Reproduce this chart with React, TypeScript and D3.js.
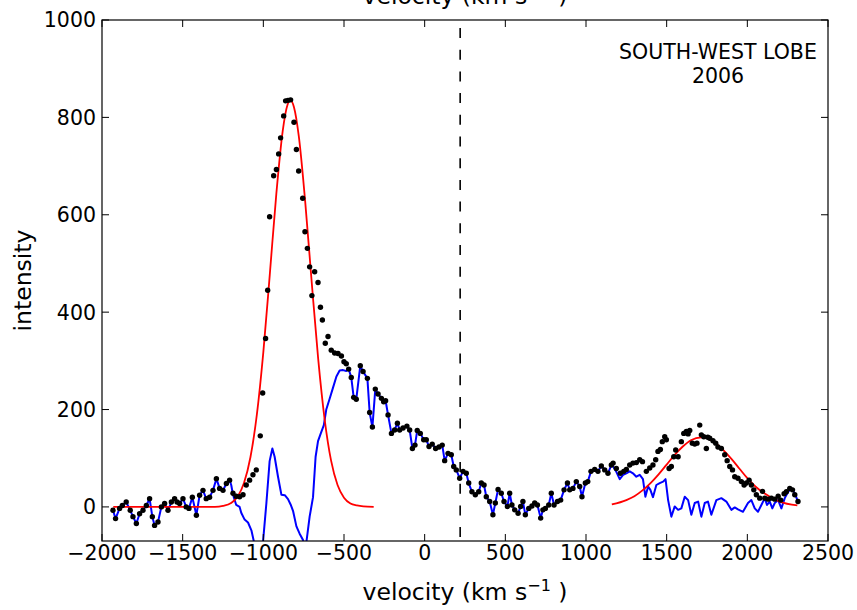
import React from 'react';
import * as d3 from 'd3';

// Observed spectrum (black dots): velocity (km/s) and intensity
const velocity = [
  -1932, -1916, -1891, -1874, -1850, -1825, -1808, -1787, -1767, -1746,
  -1725, -1705, -1688, -1674, -1653, -1632, -1612, -1591, -1570, -1550,
  -1535, -1519, -1498, -1478, -1461, -1440, -1415, -1395, -1374, -1354,
  -1333, -1312, -1291, -1271, -1250, -1229, -1209, -1188,
  -1168, -1147, -1126, -1106, -1085, -1064, -1044, -1019, -1004, -986,
  -973, -961, -936, -919, -905, -893, -874, -862, -847, -831,
  -810, -795, -781, -756, -742, -727, -713, -699, -682, -661,
  -646, -634, -616, -599, -579, -558, -537, -516, -500, -486, -471,
  -455, -440, -424, -399, -382, -355, -341, -324, -306, -289,
  -268, -254, -242, -227, -206, -186, -169, -155, -134, -110,
  -93, -76, -60, -46, -27, -6, 10, 27, 47, 68, 89, 109, 124, 145, 165, 180,
  196, 217, 238, 258, 273, 293, 314, 335, 351, 368,
  382, 403, 423, 438, 455, 475, 492, 513, 527, 541,
  558, 579, 595, 609, 624, 645, 665, 682, 699, 719,
  733, 748, 769, 785, 802, 823, 843, 864, 885, 899,
  919, 940, 961, 975, 996, 1011, 1031, 1054, 1074, 1095, 1116, 1136, 1157,
  1168, 1188, 1213, 1234, 1250, 1271, 1291, 1312, 1333, 1350,
  1374, 1395, 1415, 1432, 1446, 1461, 1473, 1488, 1498, 1515,
  1529, 1544, 1556, 1571, 1591, 1606, 1622, 1633, 1643, 1659,
  1674, 1688, 1705, 1715, 1730, 1746, 1755, 1767, 1787, 1804,
  1818, 1839, 1860, 1875, 1891, 1908, 1922, 1942, 1963, 1980,
  1994, 2011, 2025, 2040, 2056, 2077, 2094, 2108, 2129, 2149,
  2170, 2191, 2207, 2228, 2242, 2263, 2280, 2294, 2314,
];
const intensity = [
  -7, -24, -3, 3, 10, -7, -20, -34, -14, -7,
  3, 17, -20, -38, -31, 0, 7, -7, 10, 17,
  10, 7, 17, 0, -3, 20, -17, 24, 34, 17,
  20, 34, 58, 38, 34, 48, 55, 28,
  22, 21, 25, 45, 55, 66, 76, 146, 234, 346,
  445, 596, 680, 693, 725, 758, 803, 834, 835, 836,
  790, 734, 690, 634, 565, 531, 493, 434, 483, 461,
  410, 384, 336, 350, 322, 316, 315, 310, 298, 294, 283,
  266, 225, 221, 290, 278, 264, 194, 164, 242, 232,
  223, 216, 218, 189, 151, 158, 172, 158, 162, 166,
  158, 120, 127, 157, 151, 138, 138, 124, 129, 120, 123, 127, 95, 110, 107, 83,
  76, 59, 73, 69, 49, 31, 25, 31, 49, 45,
  21, 11, -16, 8, 36, 28, 11, 1, 28, 4,
  -6, -13, 1, 11, -16, -3, 2, 8, 4, -23,
  -6, -3, 4, 28, 4, 11, 14, 35, 49, 35,
  38, 52, 42, 21, 49, 52, 73, 77, 73, 84, 76, 69, 86,
  90, 79, 69, 73, 77, 86, 90, 91, 97, 93,
  73, 80, 86, 97, 114, 118, 134, 144, 138, 79,
  83, 103, 117, 103, 134, 151, 155, 150, 157, 131,
  129, 131, 168, 148, 144, 120, 143, 141, 136, 131,
  123, 120, 107, 95, 83, 76, 62, 59, 52, 45,
  49, 55, 45, 35, 25, 18, 32, 18, 16, 18,
  16, 22, 14, 27, 31, 38, 35, 25, 11,
];

// Residual (blue) where the Gaussian fits were subtracted
const residualLeftV = [
  -1209, -1199, -1188, -1168, -1147, -1137, -1116, -1095, -1074, -1058,
  -1040, -1020, -1002, -981, -961, -944, -930, -909, -888, -867,
  -847, -831, -816, -795, -775, -754, -740, -733, -713, -692,
  -676, -661, -645, -625, -610, -589, -568, -547, -527, -506, -486,
];
const residualLeftI = [
  55, 45, 25, 4, 0, -12, -26, -32, -48, -72,
  -115, -120, -72, 8, 94, 120, 103, 62, 25, 24,
  16, 5, -8, -40, -55, -68, -90, -72, -20, 20,
  103, 135, 150, 168, 200, 222, 245, 268, 280, 281, 279,
];
const residualRightV = [
  1168, 1188, 1209, 1230, 1250, 1271, 1291, 1312, 1333, 1353,
  1368, 1385, 1399, 1415, 1436, 1457, 1478, 1493, 1509, 1529,
  1550, 1571, 1591, 1612, 1633, 1653, 1674, 1695, 1715, 1736,
  1756, 1777, 1808, 1839, 1870, 1901, 1922, 1942, 1973, 2004,
  2025, 2046, 2066, 2087, 2108, 2122, 2139, 2155, 2170, 2191,
  2211, 2232, 2253, 2273, 2294, 2314,
];
const residualRightI = [
  83, 72, 57, 66, 69, 73, 69, 62, 66, 57,
  21, 42, 35, 20, 45, 49, 52, 57, 14, -20,
  1, -6, -3, 21, 14, -16, 8, 11, -20, 8,
  11, -16, 14, 18, 11, -6, -1, -5, -10, 8,
  14, -3, -10, 4, 18, 4, 11, -3, 8, 14,
  -3, 18, 31, 38, 28, 11,
];

// Gaussian fits (red)
const fit1V = [
  -1930, -1400, -1300, -1250, -1200, -1160, -1120, -1080, -1040, -1000,
  -960, -920, -880, -850, -832, -810, -780, -740, -700, -660,
  -620, -580, -540, -500, -460, -420, -380, -316,
];
const fit1I = [
  0, 0, 0, 2, 8, 21, 49, 102, 190, 318,
  477, 641, 772, 826, 835, 821, 761, 625, 461, 304,
  180, 95, 45, 19, 7, 3, 1, 0,
];
const fit2V = [
  1160, 1250, 1300, 1350, 1400, 1450, 1500, 1550, 1600, 1650,
  1715, 1750, 1800, 1850, 1900, 1950, 2000, 2050, 2100, 2200, 2310,
];
const fit2I = [
  5, 14, 22, 34, 49, 67, 87, 107, 124, 137,
  143, 141, 132, 117, 99, 79, 59, 42, 29, 11, 3,
];

const xTicks = [-2000, -1500, -1000, -500, 0, 500, 1000, 1500, 2000, 2500];
const yTicks = [0, 200, 400, 600, 800, 1000];
const systemicVelocity = 220;
const annotationLines = ['SOUTH-WEST LOBE', '2006'];

type Pt = [number, number];

export default function App() {
  const W = 857, H = 610;
  const L = 102, R = 828, T = 20, B = 541;
  const x = d3.scaleLinear().domain([-2000, 2500]).range([L, R]);
  const y = d3.scaleLinear().domain([-70, 1000]).range([B, T]);
  const font = 'DejaVu Sans, sans-serif';

  const observed: Pt[] = velocity.map((v, i) => [v, intensity[i]]);
  const resL: Pt[] = residualLeftV.map((v, i) => [v, residualLeftI[i]]);
  const resR: Pt[] = residualRightV.map((v, i) => [v, residualRightI[i]]);
  const blue: Pt[] = [
    ...observed.filter(p => p[0] < residualLeftV[0]),
    ...resL,
    ...observed.filter(p => p[0] > residualLeftV[residualLeftV.length - 1] && p[0] < residualRightV[0]),
    ...resR,
  ];
  const fit1: Pt[] = fit1V.map((v, i) => [v, fit1I[i]]);
  const fit2: Pt[] = fit2V.map((v, i) => [v, fit2I[i]]);

  const line = d3.line<Pt>().x(d => x(d[0])).y(d => y(d[1]));
  const smooth = d3.line<Pt>().x(d => x(d[0])).y(d => y(d[1])).curve(d3.curveMonotoneX);
  const fmt = d3.format('d');
  const tick = 7;

  return (
    <svg width={W} height={H} style={{ position: 'absolute', left: 0, top: 0, background: '#fff' }}
      xmlns="http://www.w3.org/2000/svg">
      <rect x={0} y={0} width={W} height={H} fill="#fff" />
      <defs>
        <clipPath id="plotclip">
          <rect x={L} y={T} width={R - L} height={B - T} />
        </clipPath>
      </defs>
      <g clipPath="url(#plotclip)">
        <line x1={x(systemicVelocity)} x2={x(systemicVelocity)} y1={T} y2={B}
          stroke="#000" strokeWidth={1.6} strokeDasharray="10,11.7" strokeDashoffset={13.7} />
        <path d={line(blue) || ''} fill="none" stroke="#0000ff" strokeWidth={2} strokeLinejoin="round" />
        <path d={smooth(fit1) || ''} fill="none" stroke="#ff0000" strokeWidth={1.8} />
        <path d={smooth(fit2) || ''} fill="none" stroke="#ff0000" strokeWidth={1.8} />
        {observed.map((p, i) => (
          <circle key={i} cx={x(p[0])} cy={y(p[1])} r={2.7} fill="#000" />
        ))}
      </g>
      <rect x={L} y={T} width={R - L} height={B - T} fill="none" stroke="#000" strokeWidth={1.2} />
      {xTicks.map(t => (
        <g key={'x' + t}>
          <line x1={x(t)} x2={x(t)} y1={B} y2={B - tick} stroke="#000" strokeWidth={1} />
          <line x1={x(t)} x2={x(t)} y1={T} y2={T + tick} stroke="#000" strokeWidth={1} />
          <text x={x(t)} y={560} textAnchor="middle" fontFamily={font} fontSize={20.5} fill="#000">{fmt(t)}</text>
        </g>
      ))}
      {yTicks.map(t => (
        <g key={'y' + t}>
          <line x1={L} x2={L + tick} y1={y(t)} y2={y(t)} stroke="#000" strokeWidth={1} />
          <line x1={R} x2={R - tick} y1={y(t)} y2={y(t)} stroke="#000" strokeWidth={1} />
          <text x={96} y={y(t)} dy="0.36em" textAnchor="end" fontFamily={font} fontSize={20.5} fill="#000">{fmt(t)}</text>
        </g>
      ))}
      <text x={(L + R) / 2} y={600} textAnchor="middle" fontFamily={font} fontSize={23.5} fill="#000">
        velocity (km s<tspan dy={-9} fontSize={16}>−1</tspan><tspan dy={9}> )</tspan>
      </text>
      <text x={(L + R) / 2} y={4} textAnchor="middle" fontFamily={font} fontSize={23.5} fill="#000">
        velocity (km s<tspan dy={-9} fontSize={16}>−1</tspan><tspan dy={9}> )</tspan>
      </text>
      <text transform={`translate(31,${(T + B) / 2}) rotate(-90)`} textAnchor="middle" fontFamily={font} fontSize={23.5} fill="#000">
        intensity
      </text>
      {annotationLines.map((s, i) => (
        <text key={s} x={718} y={59 + i * 24} textAnchor="middle" fontFamily={font} fontSize={20.5} fill="#000">{s}</text>
      ))}
    </svg>
  );
}
